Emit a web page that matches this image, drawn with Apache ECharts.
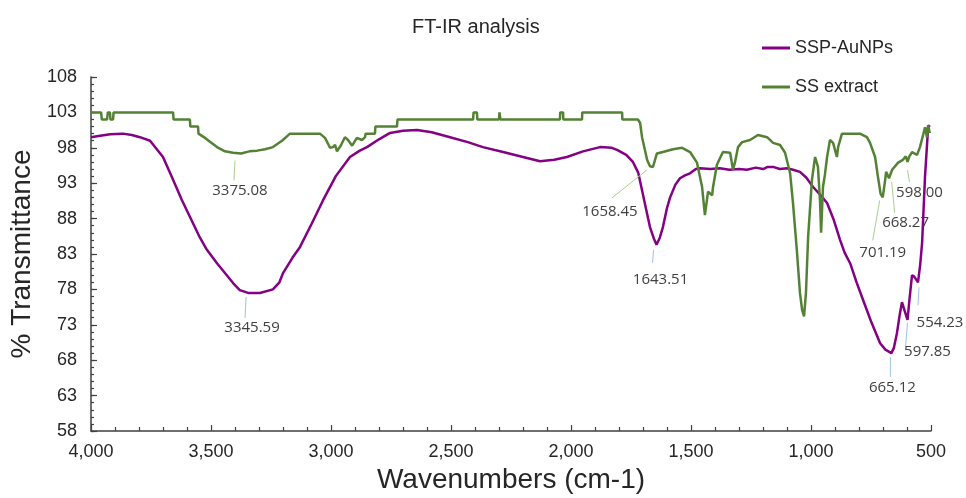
<!DOCTYPE html>
<html>
<head>
<meta charset="utf-8">
<title>FT-IR analysis</title>
<script src="https://cdn.jsdelivr.net/npm/echarts@6/dist/echarts.min.js"></script>
<style>
  html, body { margin: 0; padding: 0; background: #fff; }
  #chart { width: 966px; height: 498px; }
</style>
</head>
<body>
<div id="chart"></div>
<script>
// SSP-AuNPs spectrum (wavenumber, % transmittance)
var sspWn = [4000, 3962, 3920, 3867, 3830, 3796, 3754, 3700, 3658, 3621, 3587, 3546, 3517, 3475, 3408, 3380, 3345.59,
    3296, 3242, 3215, 3200, 3160, 3129, 3080, 3033, 2980, 2921, 2880, 2850, 2800, 2754, 2700, 2642, 2580, 2504,
    2430, 2367, 2283, 2200, 2129, 2070, 2017, 1950, 1879, 1830, 1808, 1770, 1742, 1720, 1704, 1685, 1671, 1655,
    1643.51, 1630, 1617, 1600, 1587, 1565, 1546, 1525, 1504, 1480, 1462, 1420, 1380, 1340, 1300, 1267, 1230, 1200,
    1180, 1158, 1130, 1100, 1075, 1046, 1020, 992, 960, 933, 905, 879, 860, 837, 810, 783, 750, 712, 690, 665.12,
    655, 642, 630, 621, 610, 597.85, 590, 579, 570, 554.23, 545, 537, 525, 512, 505];
var sspT = [99.5, 99.7, 99.9, 100.0, 99.8, 99.5, 99.0, 96.7, 93.5, 90.6, 88.2, 85.3, 83.6, 81.7, 78.9, 77.9, 77.5,
    77.5, 78.0, 79.0, 80.3, 82.5, 84.0, 87.3, 90.6, 94.0, 96.7, 97.6, 98.1, 99.2, 100.1, 100.4, 100.5, 100.2, 99.5,
    98.8, 98.1, 97.4, 96.7, 96.1, 96.3, 96.7, 97.5, 98.1, 98.0, 97.7, 97.0, 96.0, 94.5, 92.0, 89.0, 86.8, 85.2,
    84.3, 85.3, 86.8, 89.5, 91.0, 92.8, 93.7, 94.1, 94.4, 95.0, 95.1, 95.0, 95.1, 94.9, 95.0, 94.9, 95.2, 95.0,
    95.3, 95.3, 95.0, 95.1, 94.9, 94.6, 93.8, 92.5, 91.3, 90.2, 87.8, 85.0, 83.2, 81.7, 79.0, 76.5, 73.5, 70.4, 69.5, 69.0,
    69.7, 71.8, 74.5, 76.2, 75.0, 73.7, 76.5, 80.0, 79.8, 79.0, 81.5, 84.6, 93.9, 100.9, 101.2];

// SS extract spectrum
var ssWn = [4000, 3958, 3955, 3933, 3930, 3921, 3919, 3908, 3906, 3658, 3656, 3588, 3586, 3554, 3552, 3525, 3475,
    3442, 3408, 3375.08, 3340, 3308, 3275, 3242, 3204, 3171, 3046, 3025, 3004, 2992, 2983, 2975, 2958, 2942, 2929,
    2912, 2892, 2871, 2858, 2856, 2817, 2815, 2725, 2723, 2408, 2406, 2392, 2390, 2300, 2298, 2296, 2294, 2046,
    2045, 2033, 2032, 1954, 1953, 1787, 1786, 1721, 1712, 1704, 1692, 1683, 1671, 1658.45, 1642, 1617, 1575, 1537,
    1504, 1475, 1454, 1442, 1429, 1412, 1408, 1392, 1367, 1337, 1325, 1317, 1304, 1287, 1254, 1221, 1183, 1158,
    1129, 1108, 1087, 1075, 1058, 1046, 1037, 1029, 1021, 1012, 996, 983, 971, 962, 958, 950, 942, 933, 921, 908,
    892, 887, 871, 796, 767, 754, 733, 721, 710, 701.19, 692, 687, 675, 668.27, 662, 637, 617, 605, 598.00, 590,
    579, 558, 546, 533, 525, 517, 512, 505];
var ssT = [103, 103, 102, 102, 103, 103, 102, 102, 103, 103, 102, 102, 101, 101, 100, 99.4, 98.1,
    97.5, 97.3, 97.2, 97.5, 97.6, 97.8, 98.1, 99.0, 100.0, 100.0, 99.4, 98.0, 98.1, 98.4, 97.5, 98.4, 99.5, 99.1,
    98.3, 99.4, 99.1, 99.5, 100, 100, 101, 101, 102, 102, 103, 103, 102, 102, 103, 103, 102, 102,
    103, 103, 102, 102, 103, 103, 102, 102, 101.5, 99.5, 97.7, 96.3, 95.4, 95.3, 97.2, 97.4, 97.8, 98.0,
    97.4, 95.9, 92.5, 88.5, 91.8, 91.3, 92.5, 95.6, 97.4, 97.3, 94.9, 95.9, 98.1, 98.8, 99.1, 99.8, 99.5, 98.7,
    98.4, 97.3, 94.4, 90.2, 83.1, 77.5, 75.1, 74.2, 77.5, 85.4, 93.5, 96.7, 95.3, 90.2, 86.0, 92.5, 94.2, 96.7, 99.1, 98.7,
    96.7, 98.1, 100.0, 100.0, 99.5, 98.7, 96.7, 93.9, 91.5, 91.0, 93.2, 94.6, 93.7, 93.5, 94.9, 95.9, 96.3, 96.8, 96.0, 96.8,
    97.4, 97.0, 98.1, 99.8, 100.9, 99.5, 101.2, 100.1];

// labelled peaks
var sspPeakWn = [3345.59, 1643.51, 665.12, 597.85, 554.23];
var sspPeakT = [77.5, 84.3, 69.0, 73.7, 79.0];
var ssPeakWn = [3375.08, 1658.45, 701.19, 668.27, 598.00];
var ssPeakT = [97.2, 95.3, 91.0, 93.5, 96.0];

var yTicks = [58, 63, 68, 73, 78, 83, 88, 93, 98, 103, 108];

// leader line + label offsets (px) relative to each peak: x1, y1, x2, y2, textX, textY
var sspLabelPos = [[-2, 4, -3, 25, 4, 35], [-3, 5, -4, 18, 4, 35], [-1, 4, -1, 24, 1, 35], [0, 3, -2, 27, 20, 32], [1, 5, 0, 23, 22, 40]];
var ssLabelPos = [[-6, 7, -7, 27, -1, 37], [-6, 3, -41, 31, -43, 45], [-3, 3, -10, 43, 0, 55], [1, 2, 4, 33, 15, 43], [0, 8, 2, 20, 12, 31]];

var yMinor = [];
for (var k = yTicks[0]; k <= yTicks[yTicks.length - 1]; k++) yMinor.push(k);

function pairs(xs, ys) {
    var out = [];
    for (var i = 0; i < xs.length; i++) out.push([xs[i], ys[i]]);
    return out;
}

function peakLabels(wn, t, pos, lineColor) {
    var data = [];
    for (var i = 0; i < wn.length; i++) data.push([wn[i], t[i], i]);
    return {
        type: 'custom',
        silent: true,
        z: 5,
        data: data,
        renderItem: function (params, api) {
            var p = api.coord([api.value(0), api.value(1)]);
            var o = pos[api.value(2)];
            return {
                type: 'group',
                children: [{
                    type: 'line',
                    shape: { x1: p[0] + o[0], y1: p[1] + o[1], x2: p[0] + o[2], y2: p[1] + o[3] },
                    style: { stroke: lineColor, lineWidth: 1 }
                }, {
                    type: 'text',
                    x: p[0] + o[4],
                    y: p[1] + o[5],
                    style: {
                        text: wn[api.value(2)].toFixed(2),
                        fill: '#404040',
                        font: '15px "Open Sans"',
                        align: 'center', verticalAlign: 'middle',
                        textAlign: 'center', textVerticalAlign: 'middle'
                    }
                }]
            };
        }
    };
}

var axisColor = '#404040';
var myChart = echarts.init(document.getElementById('chart'));
var options = {
    backgroundColor: '#fff',
    animation: false,
    textStyle: { fontFamily: '"Liberation Sans", Arial, sans-serif' },
    title: {
        text: 'FT-IR analysis',
        left: 407,
        top: 12,
        textStyle: { fontSize: 20, fontWeight: 'normal', color: '#262626' }
    },
    legend: {
        data: ['SSP-AuNPs', 'SS extract'],
        orient: 'vertical',
        left: 757,
        top: 34,
        icon: 'rect',
        itemWidth: 28,
        itemHeight: 3,
        itemGap: 21,
        textStyle: { fontSize: 18, color: '#262626', lineHeight: 18 }
    },
    grid: { left: 91, right: 35, top: 77, bottom: 67, outerBoundsMode: 'none' },
    xAxis: {
        type: 'value',
        min: 500,
        max: 4000,
        interval: 500,
        inverse: true,
        name: 'Wavenumbers (cm-1)',
        nameLocation: 'middle',
        nameGap: 33,
        nameTextStyle: { fontSize: 28, color: '#262626' },
        axisLine: { lineStyle: { color: axisColor, width: 1.5 } },
        axisTick: { inside: true, length: 6, lineStyle: { color: axisColor, width: 1.2 } },
        minorTick: { show: true, splitNumber: 5, length: 4, lineStyle: { color: axisColor, width: 1.2 } },
        axisLabel: {
            fontSize: 18, color: '#262626', margin: 12, showMinLabel: true, showMaxLabel: true,
            formatter: function (v) { return v.toLocaleString('en-US'); }
        },
        splitLine: { show: false }
    },
    yAxis: [{
        type: 'value',
        min: 58,
        max: 108,
        position: 'left',
        axisLine: { show: true, lineStyle: { color: axisColor, width: 1.5 } },
        axisTick: { show: true, inside: true, length: 3, customValues: yMinor, lineStyle: { color: axisColor, width: 1.2 } },
        axisLabel: { show: false },
        splitLine: { show: false }
    }, {
        type: 'value',
        min: 58,
        max: 108,
        position: 'left',
        name: '% Transmittance',
        nameLocation: 'middle',
        nameGap: 53,
        nameTextStyle: { fontSize: 28, color: '#262626' },
        axisLine: { show: false },
        axisTick: { show: true, inside: true, length: 6, customValues: yTicks, lineStyle: { color: axisColor, width: 1.2 } },
        axisLabel: { customValues: yTicks, fontSize: 18, color: '#262626', margin: 14 },
        splitLine: { show: false }
    }],
    series: [{
        name: 'SSP-AuNPs',
        type: 'line',
        symbol: 'none',
        data: pairs(sspWn, sspT),
        lineStyle: { color: '#840084', width: 2.5 },
        itemStyle: { color: '#840084' }
    }, {
        name: 'SS extract',
        type: 'line',
        symbol: 'none',
        data: pairs(ssWn, ssT),
        lineStyle: { color: '#548235', width: 2.5 },
        itemStyle: { color: '#548235' }
    },
    peakLabels(sspPeakWn, sspPeakT, sspLabelPos, '#9DC3E6'),
    peakLabels(ssPeakWn, ssPeakT, ssLabelPos, '#A9D18E')]
};
myChart.setOption(options, true);
</script>
</body>
</html>
